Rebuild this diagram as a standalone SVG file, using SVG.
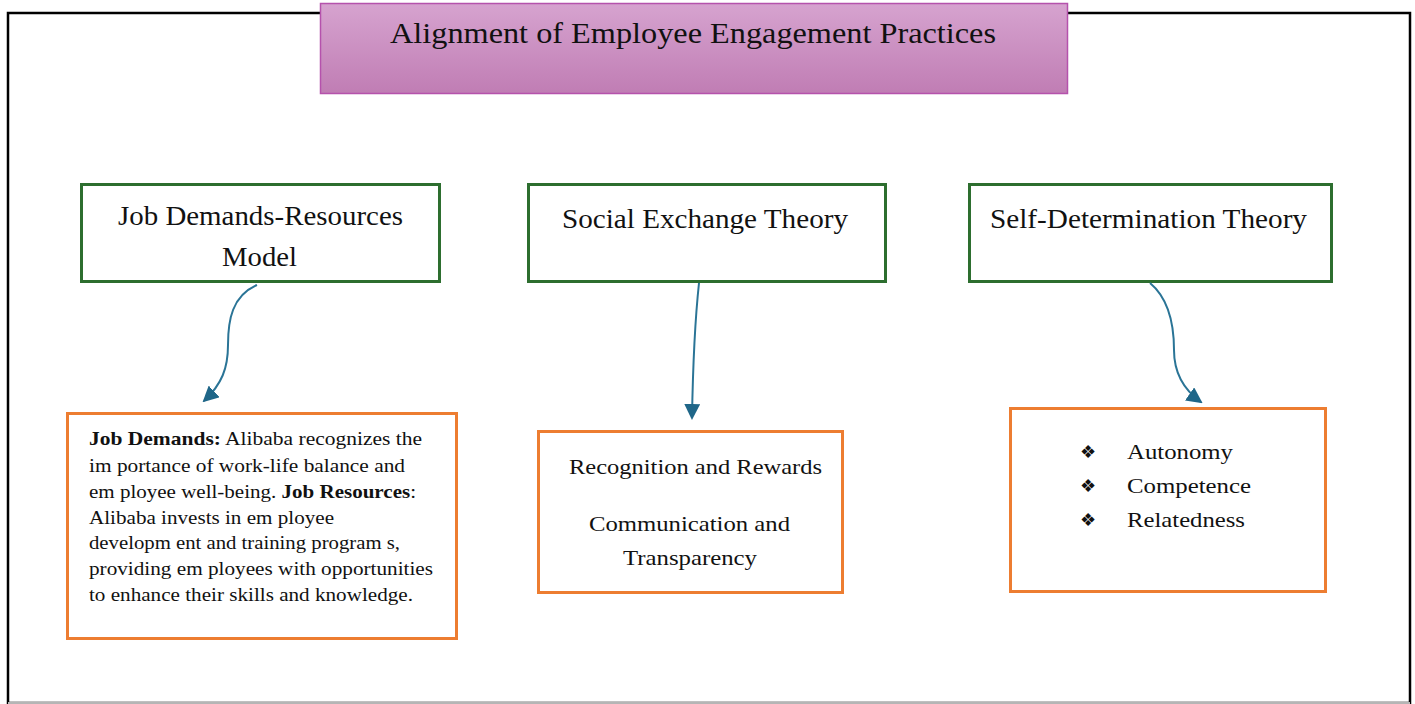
<svg xmlns="http://www.w3.org/2000/svg" width="1415" height="704" viewBox="0 0 1415 704">
  <defs>
    <linearGradient id="titleFill" x1="0" y1="0" x2="0" y2="1">
      <stop offset="0" stop-color="#d6a3cf"/>
      <stop offset="1" stop-color="#c07db4"/>
    </linearGradient>
    <marker id="arrowhead" viewBox="0 0 16 16" refX="14" refY="8" markerWidth="16" markerHeight="16" markerUnits="userSpaceOnUse" orient="auto">
      <path d="M0,0 L16,8 L0,16 Z" fill="#1f6688"/>
    </marker>
  </defs>
  <style>
    .frame { fill: none; stroke: #000; stroke-width: 2.5; }
    .theory { fill: #fff; stroke: #2d6e2f; stroke-width: 3; }
    .detail { fill: #fff; stroke: #ed7d31; stroke-width: 3; }
    .serif { font-family: "Liberation Serif", "Times New Roman", serif; fill: #111; }
    .head { font-size: 28px; }
    .body { font-size: 19px; }
    .mid { font-size: 22px; }
    .link { fill: none; stroke: #2a7496; stroke-width: 2; marker-end: url(#arrowhead); }
  </style>

  <!-- outer frame -->
  <rect class="frame" x="8" y="13" width="1402" height="690"/>
  <line x1="8" y1="703" x2="1410" y2="703" stroke="#b5b5b5" stroke-width="2"/>

  <!-- title banner -->
  <g id="title">
    <rect x="320.5" y="3.5" width="747" height="90" fill="url(#titleFill)" stroke="#b552ac" stroke-width="1.5"/>
    <text class="serif" x="390" y="43" font-size="30" textLength="606" lengthAdjust="spacingAndGlyphs">Alignment of Employee Engagement Practices</text>
  </g>

  <!-- theory boxes -->
  <g id="jdr-model">
    <rect class="theory" x="81.5" y="184.5" width="358" height="97"/>
    <text class="serif head" x="118" y="225" textLength="285" lengthAdjust="spacingAndGlyphs">Job Demands-Resources</text>
    <text class="serif head" x="222" y="266" textLength="75" lengthAdjust="spacingAndGlyphs">Model</text>
  </g>
  <g id="social-exchange">
    <rect class="theory" x="528.5" y="184.5" width="357" height="97"/>
    <text class="serif head" x="562" y="228" textLength="286" lengthAdjust="spacingAndGlyphs">Social Exchange Theory</text>
  </g>
  <g id="self-determination">
    <rect class="theory" x="969.5" y="184.5" width="362" height="97"/>
    <text class="serif head" x="990" y="228" textLength="317" lengthAdjust="spacingAndGlyphs">Self-Determination Theory</text>
  </g>

  <!-- detail boxes -->
  <g id="jdr-detail">
    <rect class="detail" x="67.5" y="413.5" width="389" height="225"/>
    <text class="serif body" x="89" y="445" textLength="333" lengthAdjust="spacingAndGlyphs"><tspan font-weight="bold">Job Demands:</tspan>  Alibaba recognizes the</text>
    <text class="serif body" x="89" y="471.5" textLength="316" lengthAdjust="spacingAndGlyphs">im portance of work-life balance and</text>
    <text class="serif body" x="89" y="497.5" textLength="327" lengthAdjust="spacingAndGlyphs">em ployee well-being.  <tspan font-weight="bold">Job Resources</tspan>:</text>
    <text class="serif body" x="89" y="523.5" textLength="245" lengthAdjust="spacingAndGlyphs">Alibaba invests in em ployee</text>
    <text class="serif body" x="89" y="549" textLength="311" lengthAdjust="spacingAndGlyphs">developm ent and training program s,</text>
    <text class="serif body" x="89" y="575" textLength="344" lengthAdjust="spacingAndGlyphs">providing em ployees with  opportunities</text>
    <text class="serif body" x="89" y="601" textLength="324" lengthAdjust="spacingAndGlyphs">to enhance their skills  and knowledge.</text>
  </g>
  <g id="set-detail">
    <rect class="detail" x="538.5" y="431.5" width="304" height="161"/>
    <text class="serif mid" x="569" y="474" textLength="253" lengthAdjust="spacingAndGlyphs">Recognition and Rewards</text>
    <text class="serif mid" x="589" y="531" textLength="201" lengthAdjust="spacingAndGlyphs">Communication and</text>
    <text class="serif mid" x="623" y="565" textLength="134" lengthAdjust="spacingAndGlyphs">Transparency</text>
  </g>
  <g id="sdt-detail">
    <rect class="detail" x="1010.5" y="408.5" width="315" height="183"/>
    <text class="serif" x="1080" y="458" font-size="18">❖</text>
    <text class="serif mid" x="1127" y="459" textLength="106" lengthAdjust="spacingAndGlyphs">Autonomy</text>
    <text class="serif" x="1080" y="492" font-size="18">❖</text>
    <text class="serif mid" x="1127" y="493" textLength="124" lengthAdjust="spacingAndGlyphs">Competence</text>
    <text class="serif" x="1080" y="526" font-size="18">❖</text>
    <text class="serif mid" x="1127" y="527" textLength="118" lengthAdjust="spacingAndGlyphs">Relatedness</text>
  </g>

  <!-- connectors -->
  <g id="connectors">
    <path class="link" d="M257,285 C232,296 228,320 228,345 C228,368 222,384 204,401"/>
    <path class="link" d="M699,283 C695,320 693,360 692,418"/>
    <path class="link" d="M1150,283 C1168,298 1174,322 1174,350 C1174,374 1184,390 1201,402"/>
  </g>
</svg>
